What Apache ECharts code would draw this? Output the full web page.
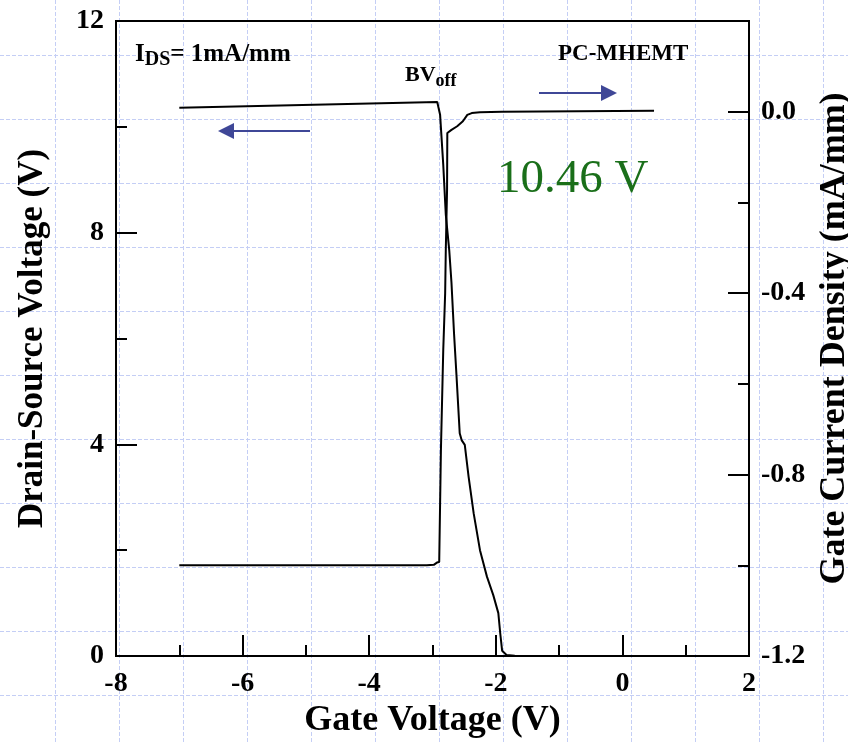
<!DOCTYPE html>
<html>
<head>
<meta charset="utf-8">
<script src="https://cdn.jsdelivr.net/npm/echarts@6/dist/echarts.min.js"></script>
<style>
html,body{margin:0;padding:0;background:#fff;}
#c{width:848px;height:744px;}
</style>
</head>
<body>
<div id="c"></div>
<script>
// ---- Data ----
// Drain-source voltage (left axis) vs gate voltage
const vgDS = [-7.0, -2.925, -2.88, -2.83, -2.79, -2.735, -2.70, -2.66, -2.62, -2.57, -2.54, -2.49, -2.43, -2.35, -2.25, -2.14, -2.04, -1.96, -1.93, -1.90, -1.83, -1.70, -1.55];
const vDS  = [10.36, 10.47, 10.23, 9.28, 8.34, 7.66, 7.05, 6.10, 5.28, 4.21, 4.08, 3.99, 3.39, 2.70, 2.00, 1.50, 1.15, 0.81, 0.43, 0.10, 0.02, 0.005, 0.0];
// Gate current density (right axis) vs gate voltage
const vgIG = [-7.0, -3.09, -2.98, -2.93, -2.894, -2.867, -2.83, -2.80, -2.79, -2.77, -2.766, -2.70, -2.61, -2.52, -2.45, -2.38, -2.25, -1.9, 0.5];
const iG   = [-1.0, -1.0, -0.999, -0.994, -0.9927, -0.746, -0.525, -0.400, -0.305, -0.172, -0.047, -0.040, -0.032, -0.021, -0.007, -0.003, -0.001, 0.0, 0.002];

const xTicks = {min: -8, max: 2, step: 2};
const yLeftTicks = {min: 0, max: 12, step: 4};
const yRightTicks = {min: -1.2, max: 0.2, step: 0.4};

const FONT = '"Liberation Serif", "Times New Roman", serif';
const W = 848, H = 744;
const chart = echarts.init(document.getElementById('c'), null, {renderer: 'canvas'});

const off = () => ({show: false});
const labelStyle = () => ({color: '#000', fontFamily: FONT, fontWeight: 'bold', fontSize: 28});
const titleStyle = (s) => ({color: '#000', fontFamily: FONT, fontWeight: 'bold', fontSize: s});
const blackLine = () => ({show: true, onZero: false, lineStyle: {color: '#000', width: 2}});
const tick = (len) => ({show: true, inside: true, length: len, lineStyle: {color: '#000', width: 2}});

// decorative graph-paper background (slide background, not data)
const paper = [];
const CELL = 64, ORIGIN = 55;
for (let p = ORIGIN; p < W; p += CELL) {
  paper.push({type: 'line', z: -10, silent: true,
    shape: {x1: p + 0.5, y1: 0, x2: p + 0.5, y2: H},
    style: {stroke: '#c4cef5', lineWidth: 1, lineDash: [4, 2]}});
}
for (let p = ORIGIN; p < H; p += CELL) {
  paper.push({type: 'line', z: -10, silent: true,
    shape: {x1: 0, y1: p + 0.5, x2: W, y2: p + 0.5},
    style: {stroke: '#c4cef5', lineWidth: 1, lineDash: [4, 2]}});
}

const option = {
  backgroundColor: '#fff',
  animation: false,
  grid: [
    {left: 116, top: 21, width: 633, height: 635, show: true, borderColor: '#000', borderWidth: 2,
     backgroundColor: 'transparent', z: 3, containLabel: false, outerBoundsMode: 'none'}
  ],
  xAxis: [
    {
      gridIndex: 0, type: 'value', min: xTicks.min, max: xTicks.max, interval: xTicks.step,
      position: 'bottom',
      axisLine: blackLine(),
      axisTick: tick(21),
      minorTick: {show: true, splitNumber: 2, length: 11, lineStyle: {color: '#000', width: 2}},
      splitLine: off(),
      axisLabel: Object.assign({margin: 14}, labelStyle()),
      name: 'Gate Voltage (V)', nameLocation: 'middle', nameGap: 46,
      nameTextStyle: titleStyle(36)
    }
  ],
  yAxis: [
    {
      gridIndex: 0, type: 'value', min: yLeftTicks.min, max: yLeftTicks.max, interval: yLeftTicks.step,
      position: 'left',
      axisLine: blackLine(),
      axisTick: tick(21),
      minorTick: {show: true, splitNumber: 2, length: 11, lineStyle: {color: '#000', width: 2}},
      splitLine: off(),
      axisLabel: Object.assign({margin: 12}, labelStyle()),
      name: 'Drain-Source Voltage (V)', nameLocation: 'middle', nameGap: 66,
      nameTextStyle: titleStyle(35)
    },
    {
      gridIndex: 0, type: 'value', min: yRightTicks.min, max: yRightTicks.max, interval: yRightTicks.step,
      position: 'right', offset: 0,
      axisLine: blackLine(),
      axisTick: tick(21),
      minorTick: off(),
      splitLine: off(),
      axisLabel: Object.assign({margin: 12, showMaxLabel: false, formatter: v => v.toFixed(1)}, labelStyle()),
      name: 'Gate Current Density (mA/mm)', nameLocation: 'middle', nameGap: 64,
      nameTextStyle: titleStyle(36)
    },
    {
      gridIndex: 0, type: 'value', min: yRightTicks.min, max: yRightTicks.max, interval: yRightTicks.step / 2,
      position: 'right', offset: 0,
      axisLine: {show: false, onZero: false},
      axisTick: tick(11),
      axisLabel: off(), splitLine: off()
    }
  ],
  series: [
    {
      type: 'line', xAxisIndex: 0, yAxisIndex: 0,
      data: vgDS.map((x, i) => [x, vDS[i]]),
      showSymbol: false, lineStyle: {color: '#000', width: 2}, z: 5
    },
    {
      type: 'line', xAxisIndex: 0, yAxisIndex: 1,
      data: vgIG.map((x, i) => [x, iG[i]]),
      showSymbol: false, lineStyle: {color: '#000', width: 2}, z: 5
    }
  ],
  graphic: paper.concat([
    {type: 'text', x: 135, y: 55, z: 10, style: {
      text: '{a|I}{b|DS}{a|= 1mA/mm}', verticalAlign: 'middle',
      rich: {
        a: {fontFamily: FONT, fontWeight: 'bold', fontSize: 25, fill: '#000', color: '#000'},
        b: {fontFamily: FONT, fontWeight: 'bold', fontSize: 20, fill: '#000', color: '#000', padding: [10, 0, 0, 0]}
      }}},
    {type: 'text', x: 405, y: 75, z: 10, style: {
      text: '{a|BV}{b|off}', verticalAlign: 'middle',
      rich: {
        a: {fontFamily: FONT, fontWeight: 'bold', fontSize: 22, fill: '#000', color: '#000'},
        b: {fontFamily: FONT, fontWeight: 'bold', fontSize: 18, fill: '#000', color: '#000', padding: [12, 0, 0, 0]}
      }}},
    {type: 'text', x: 558, y: 54, z: 10, style: {
      text: 'PC-MHEMT', verticalAlign: 'middle', fill: '#000',
      font: 'bold 23px ' + FONT}},
    {type: 'text', x: 497, y: 180, z: 10, style: {
      text: '10.46 V', verticalAlign: 'middle', fill: '#1a6f1a',
      font: '47px ' + FONT}},
    // arrows
    {type: 'line', z: 10, shape: {x1: 232, y1: 131, x2: 310, y2: 131}, style: {stroke: '#3f4797', lineWidth: 2}},
    {type: 'polygon', z: 10, shape: {points: [[218, 131], [234, 123], [234, 139]]}, style: {fill: '#3f4797'}},
    {type: 'line', z: 10, shape: {x1: 539, y1: 93, x2: 603, y2: 93}, style: {stroke: '#3f4797', lineWidth: 2}},
    {type: 'polygon', z: 10, shape: {points: [[617, 93], [601, 85], [601, 101]]}, style: {fill: '#3f4797'}}
  ])
};
chart.setOption(option);
</script>
</body>
</html>
